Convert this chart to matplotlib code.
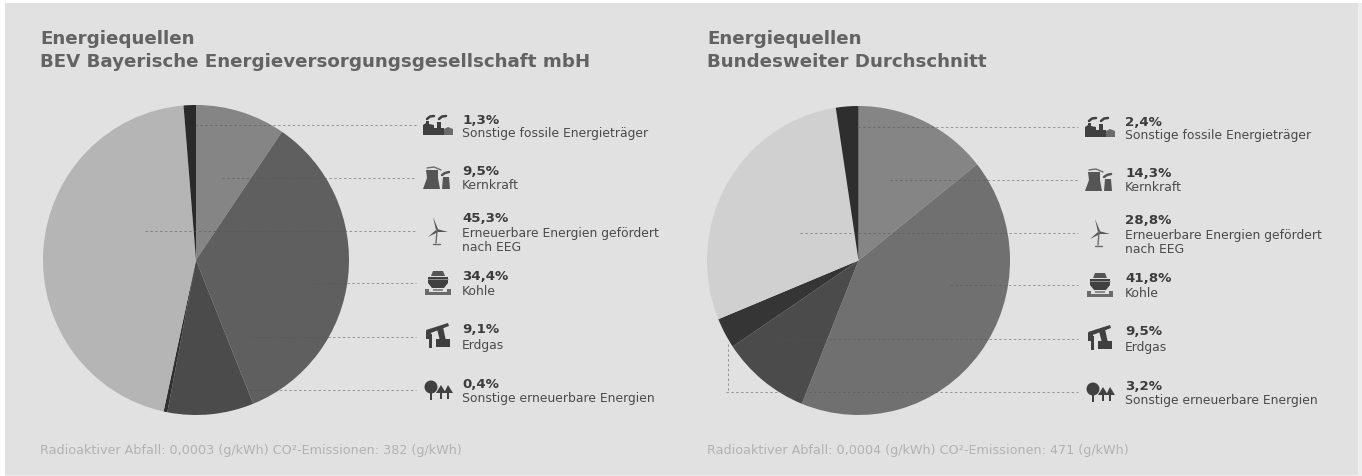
#!/usr/bin/env python3
"""Energiequellen: BEV compared with the national average, as two pie charts."""

import matplotlib
matplotlib.use("Agg")
import matplotlib.pyplot as plt
from matplotlib.patches import Circle, Polygon, Rectangle

W, H = 1362, 477

source_names = [
    "Sonstige fossile Energieträger",
    "Kernkraft",
    "Erneuerbare Energien gefördert\nnach EEG",
    "Kohle",
    "Erdgas",
    "Sonstige erneuerbare Energien",
]
icon_keys = ["fossil", "nuclear", "wind", "coal", "gas", "bio"]

# shares in percent, same order as source_names
bev_shares = [1.3, 9.5, 45.3, 34.4, 9.1, 0.4]
avg_shares = [2.4, 14.3, 28.8, 41.8, 9.5, 3.2]
bev_labels = ["1,3%", "9,5%", "45,3%", "34,4%", "9,1%", "0,4%"]
avg_labels = ["2,4%", "14,3%", "28,8%", "41,8%", "9,5%", "3,2%"]

# pie runs clockwise from 12 o'clock in this order of source_names
pie_order = [1, 3, 4, 5, 2, 0]
bev_colors = ["#2a2a2a", "#858585", "#b5b5b5", "#5f5f5f", "#4b4b4b", "#303030"]
avg_colors = ["#2e2e2e", "#858585", "#d0d0d0", "#707070", "#4b4b4b", "#353535"]

bev_title = "Energiequellen\nBEV Bayerische Energieversorgungsgesellschaft mbH"
avg_title = "Energiequellen\nBundesweiter Durchschnitt"
bev_footer = "Radioaktiver Abfall: 0,0003 (g/kWh) CO²-Emissionen: 382 (g/kWh)"
avg_footer = "Radioaktiver Abfall: 0,0004 (g/kWh) CO²-Emissionen: 471 (g/kWh)"

# row positions in pixels for the left panel, the right one sits a bit lower
line_rows = [126, 179, 232, 284, 338, 391]
pct_rows = [120, 172, 219, 277, 330, 385]
name_rows = [134, 186, 234, 292, 346, 399]

ICON = "#404040"
ICON_SOFT = "#6a6a6a"


def draw_icon(ax, kind, cx, cy):
    """Small pictogram for one energy source, centred on cx, cy."""
    def poly(points, color=ICON):
        ax.add_patch(Polygon([(cx + x, cy + y) for x, y in points], closed=True,
                             fc=color, ec="none"))

    def rect(x, y, w, h, color=ICON):
        ax.add_patch(Rectangle((cx + x, cy + y), w, h, fc=color, ec="none"))

    def dot(x, y, r, color=ICON):
        ax.add_patch(Circle((cx + x, cy + y), r, fc=color, ec="none"))

    def stroke(xs, ys, lw=1.2, color=ICON):
        ax.plot([cx + x for x in xs], [cy + y for y in ys], color=color, lw=lw,
                solid_capstyle="round")

    if kind == "fossil":
        poly([(-15, 10), (-15, 0), (-12, -2), (-12, -4), (-9, -4), (-9, -1), (-4, 0),
              (-4, 3), (-1, 3), (-1, -3), (3, -3), (3, 3), (6, 3), (6, 10)])
        poly([(6, 10), (6, 4), (10, 2), (15, 4), (15, 10)], ICON_SOFT)
        stroke([-11, -8, -4], [-6, -8.5, -9], 1.8)
        stroke([1, 4, 8], [-6, -8.5, -9], 1.8)
    elif kind == "nuclear":
        poly([(-15, 11), (-11, 0), (-12, -8), (0, -8), (0, 0), (2, 11)], "#555555")
        stroke([-11, -4, 3], [-10, -11, -8], 1.0, ICON_SOFT)
        poly([(4, 11), (5, -1), (11, -1), (12, 11)], "#555555")
        stroke([4, 7, 11], [-3, -5, -6], 1.8, "#555555")
    elif kind == "wind":
        stroke([-1, -2], [-1, 12], 1.0, ICON_SOFT)
        stroke([-5, 2], [12.5, 12.5], 1.0, ICON_SOFT)
        poly([(-2, -1), (-5, -14), (0, -2)], "#555555")
        poly([(-1, -2), (10, 1), (-1, 1)], "#555555")
        poly([(-2, -1), (-10, 6), (0, 1)], "#555555")
    elif kind == "coal":
        poly([(-7, -7), (-5, -12), (5, -12), (7, -7)], "#555555")
        poly([(-10, -6), (10, -6), (10, 0), (6, 5), (-6, 5), (-10, 0)])
        stroke([-10, 10], [-4, -4], 0.6, "#999999")
        rect(-13, 6, 4, 3, ICON_SOFT)
        rect(9, 6, 4, 3, ICON_SOFT)
        rect(-13, 9, 26, 3, ICON_SOFT)
        rect(-5, 6, 10, 2, "#8a8a8a")
    elif kind == "gas":
        poly([(-12, -7), (10, -14), (11, -11), (-10, -3)])
        rect(-12, -6, 5, 8)
        rect(-9, -3, 3, 14)
        poly([(-1, -8), (5, -10), (8, 4), (2, 4)])
        rect(-2, 2, 14, 8)
    elif kind == "bio":
        dot(-7, -3, 6.5)
        rect(-8, 2, 2, 8)
        poly([(-2, 3), (3, -5), (8, 3)])
        poly([(6, 3), (10, -5), (15, 3)])
        rect(2, 2, 2, 7)
        rect(9, 2, 2, 7)


def draw_panel(fig, overlay, cx, cy, rx, ry, shares, colors, pct_labels, title, footer,
               title_x, icon_x, text_x, line_end, line_starts, dy):
    # the pie gets its own axes so its scale comes from the library
    pie_ax = fig.add_axes([(cx - rx) / W, 1 - (cy + ry) / H, 2 * rx / W, 2 * ry / H])
    pie_ax.pie([shares[i] for i in pie_order], startangle=90, counterclock=False,
               colors=[colors[i] for i in pie_order], radius=1.0,
               wedgeprops={"linewidth": 0})
    pie_ax.set_aspect("auto")
    pie_ax.set_xlim(-1, 1)
    pie_ax.set_ylim(-1, 1)
    pie_ax.set_zorder(1)

    overlay.text(title_x, 50.5, title, fontsize=13.12, fontweight="bold", color="#636363",
                 va="center", ha="left", linespacing=1.32)
    overlay.text(title_x, 451, footer, fontsize=9.2, color="#b2b2b2", va="center", ha="left")

    for i, y in enumerate(line_rows):
        overlay.plot([line_starts[i], line_end], [y + dy, y + dy], color="#555555", lw=0.7,
                     ls=(0, (2.5, 2.5)), alpha=0.55)
        draw_icon(overlay, icon_keys[i], icon_x, y + dy)
        overlay.text(text_x, pct_rows[i] + dy, pct_labels[i], fontsize=9.6, fontweight="bold",
                     color="#3c3c3c", va="center", ha="left")
        parts = source_names[i].split("\n")
        overlay.text(text_x, name_rows[i] + dy, parts[0], fontsize=8.95,
                     color="#4a4a4a", va="center", ha="left")
        if len(parts) > 1:
            overlay.text(text_x, name_rows[i] + dy + 14, parts[1], fontsize=8.95,
                         color="#4a4a4a", va="center", ha="left")


def main():
    fig = plt.figure(figsize=(W / 100, H / 100), dpi=100, facecolor="white")
    plt.rcParams["font.family"] = ["DejaVu Sans"]

    # background panel stays under the pies
    back = fig.add_axes([0, 0, 1, 1])
    back.set_xlim(0, W)
    back.set_ylim(H, 0)
    back.axis("off")
    back.add_patch(Rectangle((5, 4), W - 5, H - 4, fc="#eeeeee", ec="none"))
    back.add_patch(Rectangle((5, 4), 1353, 472, fc="#e1e1e1", ec="none"))

    # leader lines, text and icons sit on top of the pies
    overlay = fig.add_axes([0, 0, 1, 1])
    overlay.set_xlim(0, W)
    overlay.set_ylim(H, 0)
    overlay.axis("off")
    overlay.patch.set_alpha(0)
    overlay.set_zorder(2)

    draw_panel(fig, overlay, 196, 261, 153, 155, bev_shares, bev_colors, bev_labels,
               bev_title, bev_footer, 40, 438, 462, 416,
               [195, 222, 145, 313, 250, 250], 0)
    draw_panel(fig, overlay, 858.5, 261.5, 151.5, 154.5, avg_shares, avg_colors, avg_labels,
               avg_title, avg_footer, 707, 1100, 1125, 1078,
               [858, 890, 800, 950, 780, 726], 2)

    # the lowest line on the right drops from the small dark slice
    overlay.plot([728, 728], [345, 393], color="#555555", lw=0.7, ls=(0, (2.5, 2.5)), alpha=0.55)

    fig.savefig("out.png", dpi=100, facecolor=fig.get_facecolor())


if __name__ == "__main__":
    main()
